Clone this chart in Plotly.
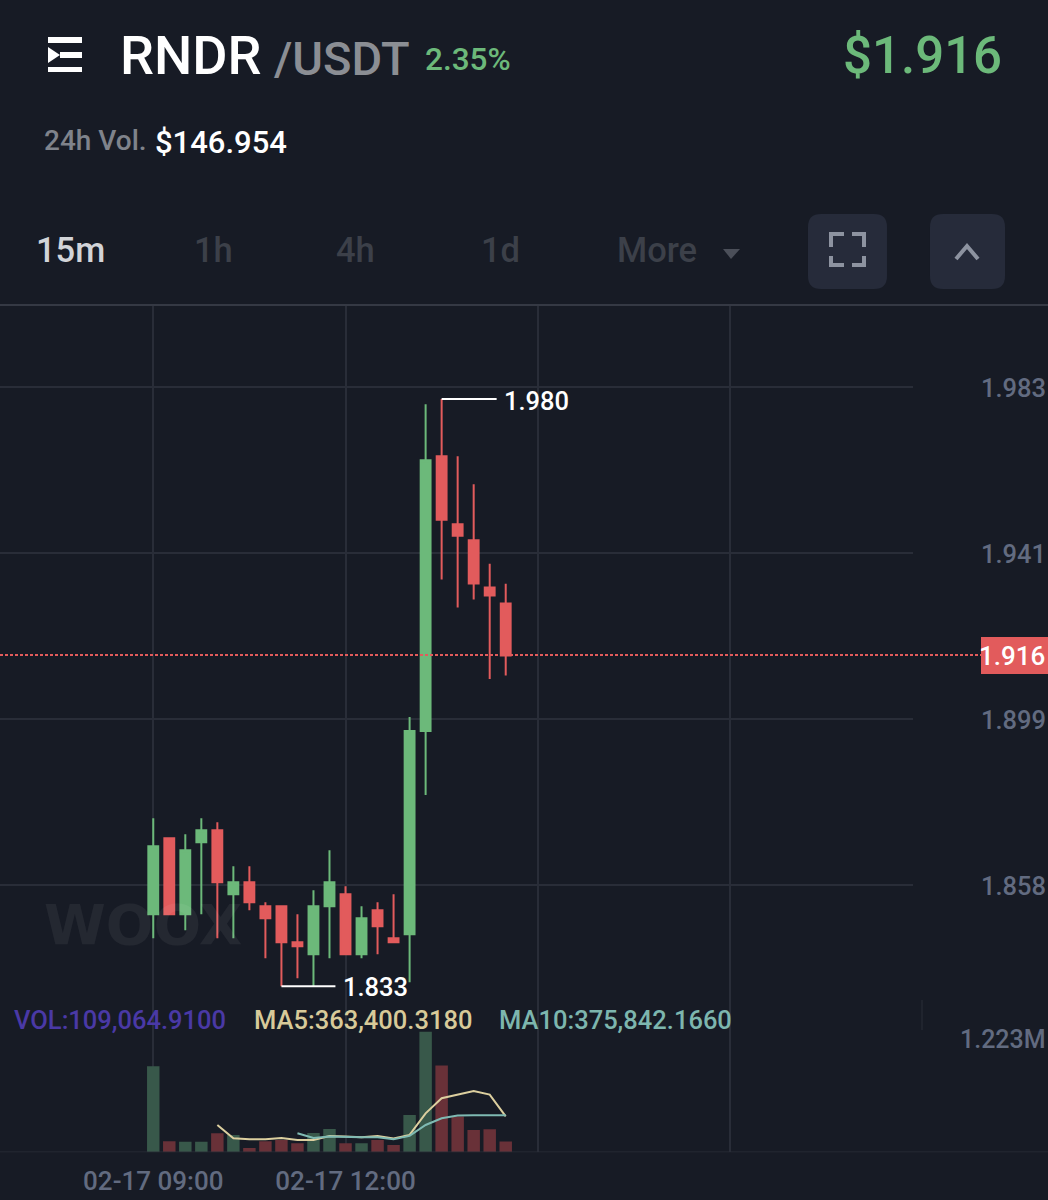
import plotly.graph_objects as go

W, H = 1048, 1200
FONT = "Roboto"
BG = "#171b25"
GRID = "#292d38"
UP = "#6cb97a"
DOWN = "#e25b5c"
UP_VOL = "#38584a"
DOWN_VOL = "#693138"
AXIS_TXT = "#626b80"

times = [f"2023-02-17 {9 + i // 4:02d}:{(i % 4) * 15:02d}:00" for i in range(23)]
opens = [1.8512, 1.8702, 1.8512, 1.8692, 1.8722, 1.8562, 1.8592, 1.8532, 1.8532, 1.8442, 1.8412, 1.8532,
         1.8562, 1.8412, 1.8522, 1.8452, 1.8462, 1.8970, 1.9657, 1.9487, 1.9447, 1.9329, 1.9289]
highs = [1.8752, 1.8702, 1.8712, 1.8752, 1.8742, 1.8632, 1.8632, 1.8542, 1.8532, 1.8512, 1.8572, 1.8672,
         1.8582, 1.8532, 1.8542, 1.8562, 1.9005, 1.9787, 1.9800, 1.9657, 1.9587, 1.9388, 1.9338]
lows = [1.8452, 1.8512, 1.8472, 1.8512, 1.8452, 1.8452, 1.8522, 1.8402, 1.8332, 1.8352, 1.8332, 1.8402,
        1.8412, 1.8402, 1.8412, 1.8442, 1.8342, 1.8810, 1.9349, 1.9279, 1.9299, 1.9100, 1.9109]
closes = [1.8682, 1.8512, 1.8672, 1.8722, 1.8592, 1.8592, 1.8542, 1.8502, 1.8442, 1.8432, 1.8532, 1.8592,
          1.8412, 1.8502, 1.8482, 1.8442, 1.8970, 1.9647, 1.9498, 1.9458, 1.9339, 1.9309, 1.9159]
volumes = [872000, 111000, 108000, 108000, 193000, 176000, 44000, 111000, 125000, 91000, 196000, 236000,
           91000, 91000, 125000, 74000, 379000, 1223000, 879000, 362000, 226000, 233000, 109065]
ma5 = [None, None, None, None, 277000, 142000, 132000, 132000, 145000, 125000, 125000, 166000,
       159000, 152000, 166000, 139000, 176000, 395000, 548000, 588000, 622000, 585000, 363400]
ma10 = [None, None, None, None, None, None, None, None, None, 194000, 145000, 159000,
        152000, 152000, 152000, 132000, 166000, 277000, 345000, 372000, 375000, 375000, 375842]
price_ticks = [1.983, 1.9415, 1.900, 1.8585]
price_labels = ["1.983", "1.941", "1.899", "1.858"]
time_ticks = ["2023-02-17 09:00:00", "2023-02-17 12:00:00", "2023-02-17 15:00:00", "2023-02-17 18:00:00"]
time_labels = ["02-17 09:00", "02-17 12:00", "", ""]
last_price = 1.916
high_mark = ("2023-02-17 13:30:00", 1.980, "1.980")
low_mark = ("2023-02-17 11:00:00", 1.8332, "1.833")


def px(x):
    return x / W


def py(y):
    return 1 - y / H


fig = go.Figure()
fig.add_trace(go.Candlestick(
    x=times, open=opens, high=highs, low=lows, close=closes, whiskerwidth=0,
    increasing=dict(line=dict(color=UP, width=2), fillcolor=UP),
    decreasing=dict(line=dict(color=DOWN, width=2), fillcolor=DOWN),
    xaxis="x", yaxis="y", showlegend=False, hoverinfo="skip",
))
fig.add_trace(go.Bar(
    x=times, y=volumes, width=700000,
    marker=dict(color=[UP_VOL if c >= o else DOWN_VOL for o, c in zip(opens, closes)], line_width=0),
    xaxis="x2", yaxis="y2", showlegend=False, hoverinfo="skip",
))
fig.add_trace(go.Scatter(x=times, y=ma5, mode="lines", line=dict(color="#dccf9f", width=2),
                         xaxis="x2", yaxis="y2", showlegend=False, hoverinfo="skip"))
fig.add_trace(go.Scatter(x=times, y=ma10, mode="lines", line=dict(color="#7fbab3", width=2),
                         xaxis="x2", yaxis="y2", showlegend=False, hoverinfo="skip"))

x_range = ["2023-02-17 06:36:30", "2023-02-17 20:51:20"]
dom = [0, px(913)]
grid = dict(showgrid=True, gridcolor=GRID, gridwidth=1.5, zeroline=False, showline=False)

shapes = [
    dict(type="line", xref="paper", yref="paper", x0=0, x1=1, y0=py(305), y1=py(305),
         line=dict(color="#353944", width=2)),
    dict(type="line", xref="paper", yref="y", x0=0, x1=px(981), y0=last_price, y1=last_price,
         line=dict(color=DOWN, width=2, dash="3px,2px")),
    dict(type="line", xref="paper", yref="paper", x0=px(922), x1=px(922), y0=py(1000), y1=py(1030),
         line=dict(color="#2a2e39", width=1)),
    dict(type="line", xref="paper", yref="y2", x0=0, x1=1, y0=0, y1=0,
         line=dict(color="#2a2e39", width=1.5)),
    dict(type="rect", xref="paper", yref="paper", x0=px(981), x1=1, y0=py(637), y1=py(674),
         fillcolor=DOWN, line_width=0, layer="above"),
]
for (t, p, _), length in ((high_mark, 55), (low_mark, 54)):
    shapes.append(dict(type="line", xref="x", yref="y", xsizemode="pixel", xanchor=t, x0=0, x1=length,
                       y0=p, y1=p, line=dict(color="#ffffff", width=2), layer="above"))


def path_shape(points, fill=None, line=None, width=0):
    d = "M " + " L ".join(f"{px(x):.5f},{py(y):.5f}" for x, y in points)
    s = dict(type="path", xref="paper", yref="paper", path=d + (" Z" if fill else ""), layer="above")
    s["fillcolor"] = fill if fill else "rgba(0,0,0,0)"
    s["line"] = dict(color=line if line else "rgba(0,0,0,0)", width=width)
    return s


def rect(x0, y0, x1, y1, fill):
    return dict(type="rect", xref="paper", yref="paper", x0=px(x0), x1=px(x1), y0=py(y0), y1=py(y1),
                fillcolor=fill, line_width=0, layer="above")


def round_rect(x0, y0, x1, y1, r, fill):
    a, b, c, d = px(x0), px(x1), py(y0), py(y1)
    rx, ry = r / W, r / H
    p = (f"M {a + rx:.5f},{c:.5f} L {b - rx:.5f},{c:.5f} Q {b:.5f},{c:.5f} {b:.5f},{c - ry:.5f} "
         f"L {b:.5f},{d + ry:.5f} Q {b:.5f},{d:.5f} {b - rx:.5f},{d:.5f} L {a + rx:.5f},{d:.5f} "
         f"Q {a:.5f},{d:.5f} {a:.5f},{d + ry:.5f} L {a:.5f},{c - ry:.5f} Q {a:.5f},{c:.5f} {a + rx:.5f},{c:.5f} Z")
    return dict(type="path", xref="paper", yref="paper", path=p, fillcolor=fill, line_width=0, layer="above")


# header menu icon
shapes += [rect(48, 37, 82, 43, "#ffffff"), rect(60, 52, 82, 58, "#ffffff"), rect(48, 67, 82, 72, "#ffffff"),
           path_shape([(48, 47), (60, 55), (48, 63)], fill="#ffffff")]
# buttons
shapes += [round_rect(808, 214, 887, 289, 13, "#262b3a"), round_rect(930, 214, 1005, 289, 13, "#262b3a")]
icon = "#8d93a0"
shapes += [
    path_shape([(831, 247), (831, 234), (844, 234)], line=icon, width=4),
    path_shape([(852, 234), (864, 234), (864, 247)], line=icon, width=4),
    path_shape([(831, 256), (831, 265), (844, 265)], line=icon, width=4),
    path_shape([(852, 265), (864, 265), (864, 256)], line=icon, width=4),
    path_shape([(956, 259), (967, 246), (978, 259)], line=icon, width=4),
    path_shape([(723, 249), (740, 249), (731, 259)], fill="#4b4f59"),
]


def label(x, y, text, size, color, anchor="left", family=FONT, weight=500):
    return dict(xref="paper", yref="paper", x=px(x), y=py(y), text=text, showarrow=False, xanchor=anchor,
                yanchor="middle", font=dict(family=family, size=size, color=color, weight=weight), borderpad=0)


annotations = [
    label(119, 56, "RNDR", 54, "#ffffff"),
    label(273, 58, "/USDT", 47, "#8b8e94"),
    label(424, 59, "2.35%", 31.5, UP),
    label(1003, 56, "$1.916", 51, UP, anchor="right"),
    label(43, 141, "24h Vol.", 28, "#7f838b"),
    label(154, 143, "$146.954", 31, "#ffffff"),
    label(35, 250, "15m", 34.5, "#d2d4d8"),
    label(193, 250, "1h", 34.5, "#3c4049"),
    label(335, 250, "4h", 34.5, "#3c4049"),
    label(480, 250, "1d", 34.5, "#3c4049"),
    label(616, 250, "More", 34.5, "#3c4049"),
    label(13, 1020, "VOL:109,064.9100", 25.5, "#4a39a6"),
    label(253, 1020, "MA5:363,400.3180", 25.5, "#d8ca99"),
    label(498, 1020, "MA10:375,842.1660", 25.5, "#7db6ae"),
    label(43, 924, "WOOX", 56, "rgba(255,255,255,0.06)", family="DejaVu Sans", weight=700),
    label(1046, 656, f"{last_price:.3f}", 26, "#ffffff", anchor="right"),
]
for (t, p, txt), dx, dy in ((high_mark, 61, -2), (low_mark, 61, -1)):
    annotations.append(dict(x=t, y=p, xref="x", yref="y", text=txt, showarrow=False, xshift=dx, yshift=dy,
                            xanchor="left", yanchor="middle", borderpad=0,
                            font=dict(family=FONT, size=25.5, color="#ffffff", weight=500)))

axis_font = dict(family=FONT, size=25.5, color=AXIS_TXT, weight=500)
fig.update_layout(
    width=W, height=H, margin=dict(l=0, r=0, t=0, b=0), autosize=False,
    paper_bgcolor=BG, plot_bgcolor=BG, boxgap=0.12, hovermode=False, showlegend=False,
    shapes=shapes, annotations=annotations,
    xaxis=dict(domain=dom, range=x_range, type="date", anchor="y", rangeslider=dict(visible=False),
               tickmode="array", tickvals=time_ticks, showticklabels=False, ticks="", **grid),
    xaxis2=dict(domain=dom, range=x_range, type="date", anchor="y2", matches="x",
                tickmode="array", tickvals=time_ticks, ticktext=time_labels, ticks="", ticklabelstandoff=11,
                tickfont=dict(family=FONT, size=26, color=AXIS_TXT, weight=500), **grid),
    yaxis=dict(domain=[py(1003), py(305)], range=[1.829, 2.0035], side="right", anchor="x",
               tickmode="array", tickvals=price_ticks, ticktext=price_labels, ticks="", ticklabelstandoff=67,
               ticklabelshift=1, tickfont=axis_font, **grid),
    yaxis2=dict(domain=[py(1152.3), py(1003)], range=[0, 1514000], side="right", anchor="x2",
                tickmode="array", tickvals=[1223000], ticktext=["1.223M"], ticks="", ticklabelstandoff=46,
                ticklabelshift=8, showgrid=False, zeroline=False, showline=False,
                tickfont=dict(family=FONT, size=25, color=AXIS_TXT, weight=500)),
)

fig.write_html("out.html", config=dict(displayModeBar=False),
               post_script="document.body.style.margin='0';document.documentElement.style.overflow='hidden';")
